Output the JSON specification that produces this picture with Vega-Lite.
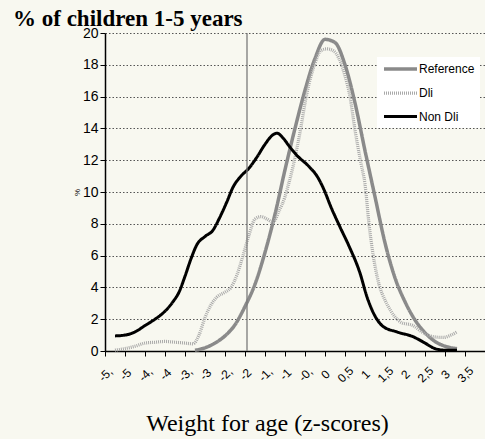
{
  "$schema": "https://vega.github.io/schema/vega-lite/v6.json",
  "autosize": "none",
  "width": 380,
  "height": 318,
  "padding": {"left": 105, "top": 33, "right": 0, "bottom": 88},
  "background": "#f8f8f0",
  "config": {
    "view": {"stroke": null, "fill": "#f8f8f0"},
    "axisX": {
      "labelAngle": -45,
      "labelAlign": "center",
      "labelBaseline": "middle",
      "labelPadding": 18,
      "labelDx": 4,
      "labelFont": "Liberation Sans",
      "labelFontSize": 12,
      "labelColor": "#000000",
      "labelOverlap": false,
      "labelBound": false,
      "labelFlush": false,
      "grid": false,
      "domainColor": "#000000",
      "domainWidth": 1.5,
      "tickColor": "#000000",
      "tickSize": 5,
      "tickWidth": 1,
      "titleFont": "Liberation Serif",
      "titleFontSize": 24,
      "titleFontWeight": "normal",
      "titleColor": "#000000",
      "titleX": 162,
      "titleY": 79,
      "titleAlign": "center",
      "titleBaseline": "alphabetic"
    }
  },
  "title": {
    "text": "% of children 1-5 years",
    "font": "Liberation Serif",
    "fontSize": 23,
    "fontWeight": "bold",
    "color": "#000000",
    "anchor": "start",
    "frame": "group",
    "orient": "top",
    "baseline": "alphabetic",
    "dx": -92,
    "dy": 15,
    "offset": -8
  },
  "datasets": {
    "curves": [
      {"series": "Reference", "z": -3.25, "v": 0.05},
      {"series": "Reference", "z": -3.0, "v": 0.2},
      {"series": "Reference", "z": -2.75, "v": 0.5},
      {"series": "Reference", "z": -2.5, "v": 0.95},
      {"series": "Reference", "z": -2.25, "v": 1.65},
      {"series": "Reference", "z": -2.0, "v": 2.8},
      {"series": "Reference", "z": -1.75, "v": 4.2},
      {"series": "Reference", "z": -1.5, "v": 6.2},
      {"series": "Reference", "z": -1.25, "v": 8.6},
      {"series": "Reference", "z": -1.0, "v": 11.4},
      {"series": "Reference", "z": -0.75, "v": 14.0},
      {"series": "Reference", "z": -0.5, "v": 16.4},
      {"series": "Reference", "z": -0.25, "v": 18.4},
      {"series": "Reference", "z": 0.0, "v": 19.6},
      {"series": "Reference", "z": 0.25, "v": 19.4},
      {"series": "Reference", "z": 0.5, "v": 18.0},
      {"series": "Reference", "z": 0.75, "v": 15.6},
      {"series": "Reference", "z": 1.0, "v": 12.6},
      {"series": "Reference", "z": 1.25, "v": 9.7},
      {"series": "Reference", "z": 1.5, "v": 6.8},
      {"series": "Reference", "z": 1.75, "v": 4.6},
      {"series": "Reference", "z": 2.0, "v": 3.1},
      {"series": "Reference", "z": 2.25, "v": 1.95},
      {"series": "Reference", "z": 2.5, "v": 1.15},
      {"series": "Reference", "z": 2.75, "v": 0.6},
      {"series": "Reference", "z": 3.0, "v": 0.3},
      {"series": "Reference", "z": 3.3, "v": 0.15},

      {"series": "Dli", "z": -5.25, "v": 0.05},
      {"series": "Dli", "z": -5.0, "v": 0.15},
      {"series": "Dli", "z": -4.75, "v": 0.3},
      {"series": "Dli", "z": -4.5, "v": 0.5},
      {"series": "Dli", "z": -4.25, "v": 0.55},
      {"series": "Dli", "z": -4.0, "v": 0.6},
      {"series": "Dli", "z": -3.75, "v": 0.55},
      {"series": "Dli", "z": -3.5, "v": 0.5},
      {"series": "Dli", "z": -3.3, "v": 0.45},
      {"series": "Dli", "z": -3.15, "v": 1.0},
      {"series": "Dli", "z": -3.0, "v": 2.1},
      {"series": "Dli", "z": -2.85, "v": 2.9},
      {"series": "Dli", "z": -2.7, "v": 3.4},
      {"series": "Dli", "z": -2.5, "v": 3.7},
      {"series": "Dli", "z": -2.35, "v": 4.0},
      {"series": "Dli", "z": -2.2, "v": 4.8},
      {"series": "Dli", "z": -2.05, "v": 6.0},
      {"series": "Dli", "z": -1.9, "v": 7.3},
      {"series": "Dli", "z": -1.75, "v": 8.3},
      {"series": "Dli", "z": -1.6, "v": 8.45},
      {"series": "Dli", "z": -1.45, "v": 8.3},
      {"series": "Dli", "z": -1.3, "v": 8.1},
      {"series": "Dli", "z": -1.15, "v": 8.8},
      {"series": "Dli", "z": -1.0, "v": 9.7},
      {"series": "Dli", "z": -0.9, "v": 10.6},
      {"series": "Dli", "z": -0.8, "v": 11.6},
      {"series": "Dli", "z": -0.6, "v": 14.1},
      {"series": "Dli", "z": -0.5, "v": 15.6},
      {"series": "Dli", "z": -0.4, "v": 16.8},
      {"series": "Dli", "z": -0.25, "v": 18.1},
      {"series": "Dli", "z": -0.1, "v": 18.9},
      {"series": "Dli", "z": 0.05, "v": 19.0},
      {"series": "Dli", "z": 0.2, "v": 18.9},
      {"series": "Dli", "z": 0.35, "v": 18.4},
      {"series": "Dli", "z": 0.5, "v": 17.3},
      {"series": "Dli", "z": 0.625, "v": 16.0},
      {"series": "Dli", "z": 0.75, "v": 13.9},
      {"series": "Dli", "z": 0.9, "v": 11.8},
      {"series": "Dli", "z": 1.0, "v": 10.5},
      {"series": "Dli", "z": 1.1, "v": 8.0},
      {"series": "Dli", "z": 1.2, "v": 6.1},
      {"series": "Dli", "z": 1.35, "v": 4.2},
      {"series": "Dli", "z": 1.5, "v": 3.2},
      {"series": "Dli", "z": 1.65, "v": 2.5},
      {"series": "Dli", "z": 1.9, "v": 1.8},
      {"series": "Dli", "z": 2.2, "v": 1.6},
      {"series": "Dli", "z": 2.45, "v": 1.15},
      {"series": "Dli", "z": 2.7, "v": 0.9},
      {"series": "Dli", "z": 2.95, "v": 0.85},
      {"series": "Dli", "z": 3.15, "v": 1.0},
      {"series": "Dli", "z": 3.3, "v": 1.2},

      {"series": "Non Dli", "z": -5.25, "v": 0.95},
      {"series": "Non Dli", "z": -5.0, "v": 1.0},
      {"series": "Non Dli", "z": -4.75, "v": 1.2},
      {"series": "Non Dli", "z": -4.5, "v": 1.6},
      {"series": "Non Dli", "z": -4.25, "v": 2.0},
      {"series": "Non Dli", "z": -4.0, "v": 2.5},
      {"series": "Non Dli", "z": -3.8, "v": 3.1},
      {"series": "Non Dli", "z": -3.65, "v": 3.7},
      {"series": "Non Dli", "z": -3.5, "v": 4.7},
      {"series": "Non Dli", "z": -3.35, "v": 5.8},
      {"series": "Non Dli", "z": -3.2, "v": 6.7},
      {"series": "Non Dli", "z": -3.0, "v": 7.2},
      {"series": "Non Dli", "z": -2.8, "v": 7.6},
      {"series": "Non Dli", "z": -2.65, "v": 8.3},
      {"series": "Non Dli", "z": -2.45, "v": 9.4},
      {"series": "Non Dli", "z": -2.3, "v": 10.3},
      {"series": "Non Dli", "z": -2.1, "v": 11.0},
      {"series": "Non Dli", "z": -1.9, "v": 11.5},
      {"series": "Non Dli", "z": -1.7, "v": 12.2},
      {"series": "Non Dli", "z": -1.5, "v": 13.0},
      {"series": "Non Dli", "z": -1.3, "v": 13.6},
      {"series": "Non Dli", "z": -1.2, "v": 13.7},
      {"series": "Non Dli", "z": -1.05, "v": 13.4},
      {"series": "Non Dli", "z": -0.9, "v": 12.9},
      {"series": "Non Dli", "z": -0.7, "v": 12.3},
      {"series": "Non Dli", "z": -0.4, "v": 11.6},
      {"series": "Non Dli", "z": -0.2, "v": 11.0},
      {"series": "Non Dli", "z": 0.0, "v": 10.0},
      {"series": "Non Dli", "z": 0.125, "v": 9.2},
      {"series": "Non Dli", "z": 0.375, "v": 7.8},
      {"series": "Non Dli", "z": 0.6, "v": 6.6},
      {"series": "Non Dli", "z": 0.875, "v": 4.9},
      {"series": "Non Dli", "z": 1.05, "v": 3.4},
      {"series": "Non Dli", "z": 1.25, "v": 2.2},
      {"series": "Non Dli", "z": 1.45, "v": 1.55},
      {"series": "Non Dli", "z": 1.8, "v": 1.2},
      {"series": "Non Dli", "z": 2.2, "v": 0.9},
      {"series": "Non Dli", "z": 2.5, "v": 0.5},
      {"series": "Non Dli", "z": 2.75, "v": 0.15},
      {"series": "Non Dli", "z": 3.0, "v": 0.05},
      {"series": "Non Dli", "z": 3.3, "v": 0.05}
    ],
    "marker": [{"z": -1.95}]
  },
  "layer": [
    {
      "data": {"name": "curves"},
      "mark": {"type": "line", "interpolate": "monotone"},
      "encoding": {
        "x": {
          "field": "z", "type": "quantitative",
          "scale": {"domain": [-5.5, 4], "nice": false, "zero": false},
          "axis": {
            "values": [-5.5, -5, -4.5, -4, -3.5, -3, -2.5, -2, -1.5, -1, -0.5, 0, 0.5, 1, 1.5, 2, 2.5, 3, 3.5, 4],
            "labelExpr": "datum.value >= 4 ? '' : (datum.value < 0 && datum.value % 1 != 0) ? '-' + floor(abs(datum.value)) + ',' : replace(toString(datum.value), '.', ',')",
            "title": "Weight for age (z-scores)"
          }
        },
        "y": {
          "field": "v", "type": "quantitative",
          "scale": {"domain": [0, 20], "nice": false},
          "axis": {
            "values": [0, 2, 4, 6, 8, 10, 12, 14, 16, 18, 20],
            "labelFont": "Liberation Sans",
            "labelFontSize": 14,
            "labelColor": "#000000",
            "labelPadding": 2,
            "labelFlush": false,
            "labelBound": false,
            "tickColor": "#000000",
            "tickSize": 5,
            "domainColor": "#000000",
            "domainWidth": 1.5,
            "grid": true,
            "gridColor": "#555555",
            "gridDash": [1.5, 2],
            "gridWidth": 1,
            "title": "%",
            "titleFont": "Liberation Sans",
            "titleFontSize": 8,
            "titleFontWeight": "normal",
            "titleColor": "#000000",
            "titleAngle": -90,
            "titleX": -28,
            "titleY": 159,
            "titleAlign": "center",
            "titleBaseline": "middle"
          }
        },
        "color": {
          "field": "series", "type": "nominal",
          "scale": {"domain": ["Reference", "Dli", "Non Dli"], "range": ["#8a8a8a", "#a9a9a9", "#000000"]},
          "legend": {
            "title": null,
            "orient": "none",
            "legendX": 272,
            "legendY": 24,
            "fillColor": "#ffffff",
            "padding": 5,
            "symbolType": "M-3.3,0H3.3",
            "symbolSize": 100,
            "symbolOffset": 11.5,
            "symbolStrokeWidth": 4,
            "labelFont": "Liberation Sans",
            "labelFontSize": 12,
            "labelColor": "#000000",
            "labelOffset": 11.5,
            "rowPadding": 10
          }
        },
        "strokeDash": {
          "field": "series", "type": "nominal",
          "scale": {"domain": ["Reference", "Dli", "Non Dli"], "range": [[1, 0], [1, 1], [1, 0]]},
          "legend": null
        },
        "strokeWidth": {
          "field": "series", "type": "nominal",
          "scale": {"domain": ["Reference", "Dli", "Non Dli"], "range": [3.5, 3, 3.5]},
          "legend": null
        }
      }
    },
    {
      "data": {"name": "marker"},
      "mark": {"type": "rule", "color": "#7a7a7a", "strokeWidth": 1.3},
      "encoding": {
        "x": {
          "field": "z", "type": "quantitative",
          "axis": {
            "values": [-5.5, -5, -4.5, -4, -3.5, -3, -2.5, -2, -1.5, -1, -0.5, 0, 0.5, 1, 1.5, 2, 2.5, 3, 3.5, 4],
            "labelExpr": "datum.value >= 4 ? '' : (datum.value < 0 && datum.value % 1 != 0) ? '-' + floor(abs(datum.value)) + ',' : replace(toString(datum.value), '.', ',')",
            "title": "Weight for age (z-scores)"
          }
        }
      }
    }
  ]
}
